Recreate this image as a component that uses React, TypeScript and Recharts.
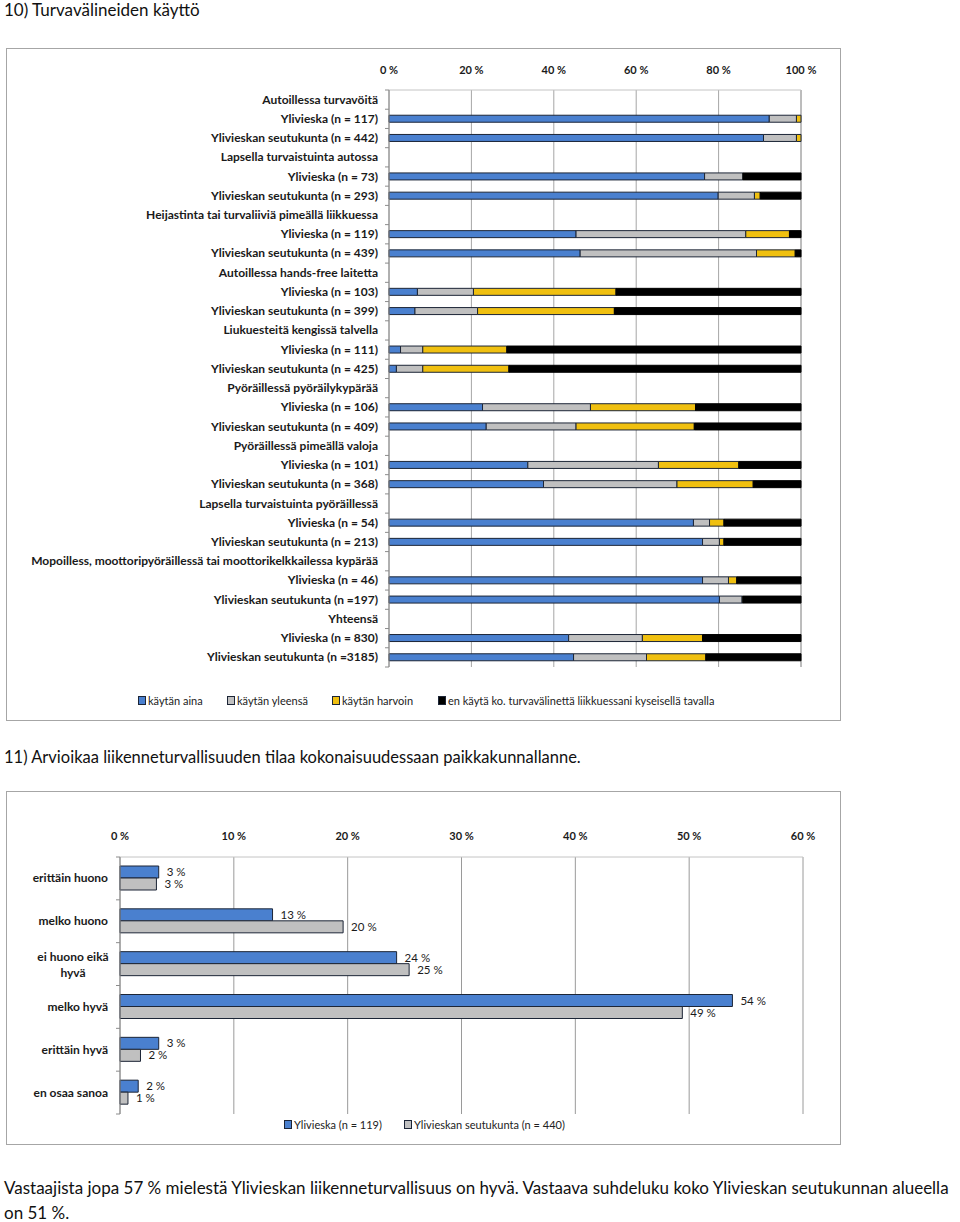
import React from "react";
import { Bar, BarChart, CartesianGrid, LabelList, XAxis, YAxis } from "recharts";

const FONT = "Lato, 'Open Sans', sans-serif";

// 10) Turvavälineiden käyttö — rivit (otsikkorivit ilman arvoja)
const ROW_LABELS = [
  "Autoillessa turvavöitä",
  "Ylivieska (n = 117)",
  "Ylivieskan seutukunta (n = 442)",
  "Lapsella turvaistuinta autossa",
  "Ylivieska (n = 73)",
  "Ylivieskan seutukunta (n = 293)",
  "Heijastinta tai turvaliiviä pimeällä liikkuessa",
  "Ylivieska (n = 119)",
  "Ylivieskan seutukunta (n = 439)",
  "Autoillessa hands-free laitetta",
  "Ylivieska (n = 103)",
  "Ylivieskan seutukunta (n = 399)",
  "Liukuesteitä kengissä talvella",
  "Ylivieska (n = 111)",
  "Ylivieskan seutukunta (n = 425)",
  "Pyöräillessä pyöräilykypärää",
  "Ylivieska (n = 106)",
  "Ylivieskan seutukunta (n = 409)",
  "Pyöräillessä pimeällä valoja",
  "Ylivieska (n = 101)",
  "Ylivieskan seutukunta (n = 368)",
  "Lapsella turvaistuinta pyöräillessä",
  "Ylivieska (n = 54)",
  "Ylivieskan seutukunta (n = 213)",
  "Mopoilless, moottoripyöräillessä tai moottorikelkkailessa kypärää",
  "Ylivieska (n = 46)",
  "Ylivieskan seutukunta (n =197)",
  "Yhteensä ",
  "Ylivieska (n = 830)",
  "Ylivieskan seutukunta (n =3185)",
];
const AINA = [null, 92.3, 90.9, null, 76.6, 79.9, null, 45.4, 46.4, null, 6.9, 6.3, null, 2.8, 1.8, null, 22.7, 23.6, null, 33.7, 37.5, null, 73.9, 76.1, null, 76.1, 80.2, null, 43.6, 44.8];
const YLEENSA = [null, 6.6, 8.0, null, 9.3, 8.8, null, 41.2, 42.8, null, 13.6, 15.2, null, 5.4, 6.4, null, 26.2, 21.8, null, 31.7, 32.4, null, 3.9, 4.1, null, 6.3, 5.5, null, 17.9, 17.7];
const HARVOIN = [null, 1.1, 1.1, null, 0, 1.4, null, 10.6, 9.4, null, 34.6, 33.2, null, 20.4, 20.9, null, 25.5, 28.7, null, 19.5, 18.5, null, 3.5, 1.1, null, 2.0, 0.2, null, 14.6, 14.4];
const EN_KAYTA = [null, 0, 0, null, 14.1, 9.9, null, 2.8, 1.4, null, 44.9, 45.3, null, 71.4, 70.9, null, 25.6, 25.9, null, 15.1, 11.6, null, 18.7, 18.7, null, 15.6, 14.1, null, 23.9, 23.1];
const TICKS_1 = [0, 20, 40, 60, 80, 100];

// 11) Liikenneturvallisuuden tila
const RATINGS = ["erittäin huono", "melko huono", "ei huono eikä hyvä", "melko hyvä", "erittäin hyvä", "en osaa sanoa"];
const YLIVIESKA = [3.4, 13.4, 24.3, 53.8, 3.4, 1.6];
const SEUTUKUNTA = [3.2, 19.6, 25.4, 49.4, 1.8, 0.7];
const TICKS_2 = [0, 10, 20, 30, 40, 50, 60];

const BLUE = "#4A80CF";
const GRAY = "#C0C0C0";
const GOLD = "#F0C010";
const BLACK = "#000000";
const OUTLINE = "#1C2536";
const TEXT = "#1a1a1a";

// rivin korkeus kategoria-akselilla (pikseleinä), pikkuviivoja varten
const BAND_1 = 577 / 30;
const BAND_2 = 257 / 6;

const usage = ROW_LABELS.map((name, i) => ({
  name,
  aina: AINA[i],
  yleensa: YLEENSA[i],
  harvoin: HARVOIN[i],
  en: EN_KAYTA[i],
}));

const rating = RATINGS.map((name, i) => ({ name, yl: YLIVIESKA[i], seutu: SEUTUKUNTA[i] }));

const AXIS_TICK = { fontSize: 11, fontWeight: 700, fill: TEXT, fontFamily: FONT };

function RowTick({ x, y, payload, index, visibleTicksCount }: any) {
  const ax = x + 11;
  return (
    <g>
      <line x1={ax - 4} x2={ax} y1={y - BAND_1 / 2} y2={y - BAND_1 / 2} stroke="#8C8C8C" />
      {index === visibleTicksCount - 1 && <line x1={ax - 4} x2={ax} y1={y + BAND_1 / 2} y2={y + BAND_1 / 2} stroke="#8C8C8C" />}
      <text x={x} y={y} dy={4} textAnchor="end" fontSize={12} fontWeight={700} fill={TEXT} fontFamily={FONT}>
        {payload.value}
      </text>
    </g>
  );
}

function RatingTick({ x, y, payload, index, visibleTicksCount }: any) {
  const v: string = payload.value;
  const ax = x + 12;
  const marks = (
    <>
      <line x1={ax - 4} x2={ax} y1={y - BAND_2 / 2} y2={y - BAND_2 / 2} stroke="#8C8C8C" />
      {index === visibleTicksCount - 1 && <line x1={ax - 4} x2={ax} y1={y + BAND_2 / 2} y2={y + BAND_2 / 2} stroke="#8C8C8C" />}
    </>
  );
  if (v === "ei huono eikä hyvä") {
    return (
      <g>
        {marks}
        <text x={x - 35} y={y} textAnchor="middle" fontSize={12} fontWeight={700} fill={TEXT} fontFamily={FONT}>
          <tspan x={x - 35} dy={-3}>ei huono eikä</tspan>
          <tspan x={x - 35} dy={16}>hyvä</tspan>
        </text>
      </g>
    );
  }
  return (
    <g>
      {marks}
      <text x={x} y={y} dy={4} textAnchor="end" fontSize={12} fontWeight={700} fill={TEXT} fontFamily={FONT}>
        {v}
      </text>
    </g>
  );
}

function LegendItem({ color, label, left, top, size }: any) {
  return (
    <div style={{ position: "absolute", left, top, display: "flex", alignItems: "center", fontSize: size, color: "#222", whiteSpace: "nowrap" }}>
      <span style={{ display: "inline-block", width: 6, height: 7, background: color, border: `1px solid ${OUTLINE}`, marginRight: 2 }} />
      {label}
    </div>
  );
}

const pct = (v: number) => `${v} %`;
const rounded = (v: any) => `${Math.round(Number(v))} %`;

export default function App() {
  return (
    <div style={{ position: "absolute", left: 0, top: 0, width: 960, height: 1222, background: "#fff", fontFamily: FONT, color: "#111", overflow: "hidden" }}>
      <div style={{ position: "absolute", left: 4, top: 1, fontSize: 17, lineHeight: "18px", whiteSpace: "nowrap" }}>10) Turvavälineiden käyttö</div>

      <div style={{ position: "absolute", left: 6, top: 48, width: 835, height: 673, border: "1px solid #A6A6A6", boxSizing: "border-box" }} />
      <div style={{ position: "absolute", left: 6, top: 48 }}>
        <BarChart width={835} height={673} data={usage} layout="vertical" margin={{ top: 12, right: 40, bottom: 54, left: 0 }} barSize={7}>
          <CartesianGrid horizontal={false} stroke="#A6A6A6" />
          <XAxis type="number" orientation="top" domain={[0, 100]} ticks={TICKS_1} tickFormatter={pct} height={30} tick={AXIS_TICK} tickLine={false} tickMargin={10} axisLine={{ stroke: "#C4C4C4" }} />
          <YAxis type="category" dataKey="name" width={383} tick={<RowTick />} interval={0} tickLine={false} tickMargin={5} axisLine={{ stroke: "#8C8C8C" }} />
          <Bar dataKey="aina" stackId="a" fill={BLUE} stroke={OUTLINE} strokeWidth={1} isAnimationActive={false} />
          <Bar dataKey="yleensa" stackId="a" fill={GRAY} stroke={OUTLINE} strokeWidth={1} isAnimationActive={false} />
          <Bar dataKey="harvoin" stackId="a" fill={GOLD} stroke={OUTLINE} strokeWidth={1} isAnimationActive={false} />
          <Bar dataKey="en" stackId="a" fill={BLACK} stroke={BLACK} strokeWidth={1} isAnimationActive={false} />
        </BarChart>
      </div>
      <LegendItem color={BLUE} label="käytän aina" left={138} top={694} size={11} />
      <LegendItem color={GRAY} label="käytän yleensä" left={227} top={694} size={11} />
      <LegendItem color={GOLD} label="käytän harvoin" left={332} top={694} size={11} />
      <LegendItem color={BLACK} label="en käytä ko. turvavälinettä liikkuessani kyseisellä tavalla" left={438} top={694} size={11} />

      <div style={{ position: "absolute", left: 4, top: 748, fontSize: 16.5, lineHeight: "18px", whiteSpace: "nowrap" }}>
        11) Arvioikaa liikenneturvallisuuden tilaa kokonaisuudessaan paikkakunnallanne.
      </div>

      <div style={{ position: "absolute", left: 6, top: 791, width: 835, height: 354, border: "1px solid #A6A6A6", boxSizing: "border-box" }} />
      <div style={{ position: "absolute", left: 6, top: 791 }}>
        <BarChart width={835} height={354} data={rating} layout="vertical" margin={{ top: 35, right: 38, bottom: 31, left: 0 }} barSize={12} barGap={0}>
          <CartesianGrid horizontal={false} stroke="#9A9A9A" />
          <XAxis type="number" orientation="top" domain={[0, 60]} ticks={TICKS_2} tickFormatter={pct} height={31} tick={AXIS_TICK} tickLine={false} tickMargin={11} axisLine={{ stroke: "#C4C4C4" }} />
          <YAxis type="category" dataKey="name" width={114} tick={<RatingTick />} interval={0} tickLine={false} tickMargin={6} axisLine={{ stroke: "#8C8C8C" }} />
          <Bar dataKey="yl" fill={BLUE} stroke={OUTLINE} strokeWidth={1} isAnimationActive={false}>
            <LabelList dataKey="yl" position="right" offset={8} formatter={rounded} style={{ fontSize: 11.5, fill: TEXT, fontFamily: FONT }} />
          </Bar>
          <Bar dataKey="seutu" fill={GRAY} stroke={OUTLINE} strokeWidth={1} isAnimationActive={false}>
            <LabelList dataKey="seutu" position="right" offset={8} formatter={rounded} style={{ fontSize: 11.5, fill: TEXT, fontFamily: FONT }} />
          </Bar>
        </BarChart>
      </div>
      <LegendItem color={BLUE} label="Ylivieska  (n = 119)" left={284} top={1118} size={11} />
      <LegendItem color={GRAY} label="Ylivieskan seutukunta  (n = 440)" left={404} top={1118} size={11} />

      <div style={{ position: "absolute", left: 4, top: 1178, fontSize: 17, lineHeight: "20px", whiteSpace: "nowrap" }}>
        Vastaajista jopa 57 % mielestä Ylivieskan liikenneturvallisuus on hyvä. Vastaava suhdeluku koko Ylivieskan seutukunnan alueella
      </div>
      <div style={{ position: "absolute", left: 4, top: 1203, fontSize: 17, lineHeight: "19px", whiteSpace: "nowrap" }}>on 51 %.</div>
    </div>
  );
}
